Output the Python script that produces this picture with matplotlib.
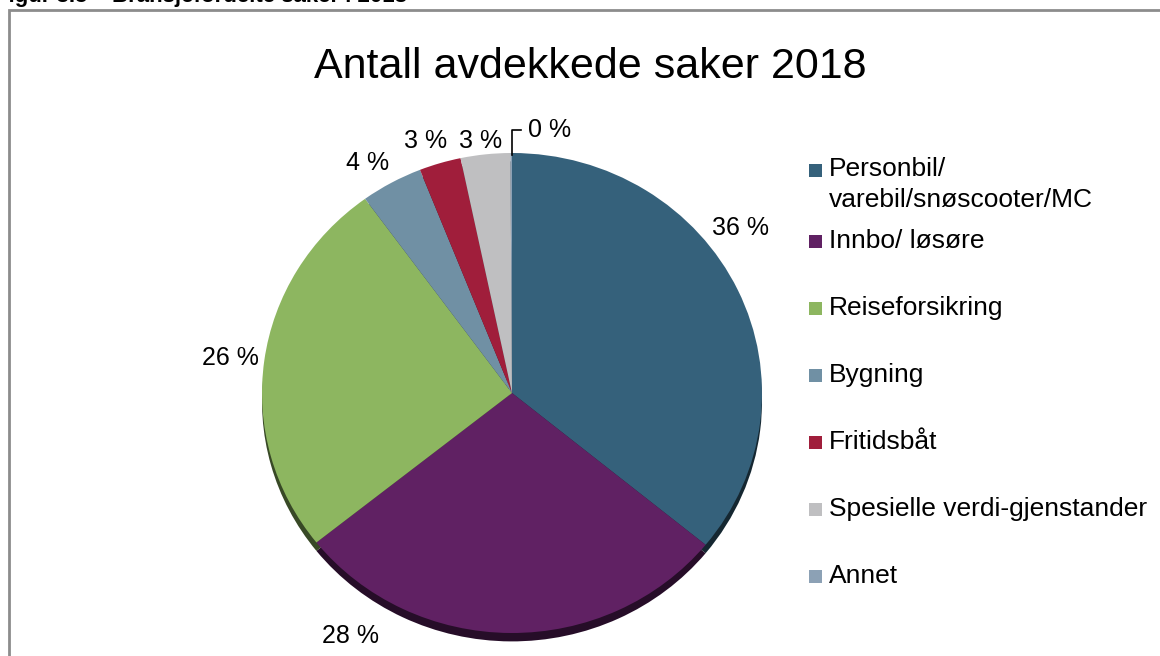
import numpy as np
import matplotlib
matplotlib.use("Agg")
import matplotlib.pyplot as plt
from matplotlib.patches import Rectangle

plt.rcParams['font.family'] = ['Liberation Sans', 'DejaVu Sans']

# Data (andel i %)
kategorier = ["Personbil/\nvarebil/snøscooter/MC", "Innbo/ løsøre", "Reiseforsikring",
              "Bygning", "Fritidsbåt", "Spesielle verdi-gjenstander", "Annet"]
andel = [35.9, 28.4, 25.7, 4.0, 2.7, 3.2, 0.1]
farger = ["#35617b", "#602163", "#8db660", "#7090a4", "#a01e3b", "#bfbfc1", "#8ca1b5"]

# plassering av etikettene (data-koordinater, radius = 1)
etikett_pos = [(0.912, 0.6875), (-0.648, -1.0125), (-1.128, 0.146), (-0.576, 0.958),
               (-0.344, 1.05), (-0.124, 1.05), (0.152, 1.096)]
# y-posisjon (piksler fra toppen) for legenden
legende_y = [170, 241, 308, 375, 442, 509, 576]

W, H = 1160, 656
fig = plt.figure(figsize=(W / 100, H / 100), dpi=100)

# ramme rundt diagrammet
fig.patches.append(Rectangle((9 / W, -0.1), 1.2, 1.1 - 10 / H, transform=fig.transFigure,
                             fill=False, edgecolor="#8c8c8c", linewidth=2))

# figurtekst (delvis kuttet i toppen)
fig.text(-5 / W, 1 - 2 / H, "Figur 3.5 – Bransjefordelte saker i 2018", fontsize=16,
         fontweight="bold", va="baseline", ha="left")

# tittel
fig.text(590 / W, 1 - 78 / H, "Antall avdekkede saker 2018", fontsize=31,
         ha="center", va="baseline")

# akse for kakediagrammet: sentrum (512, 393), radius 250 x 240 px (litt skrå)
cx, cy, rx, ry = 512, 393, 250, 240
ax = fig.add_axes([(cx - 1.2 * rx) / W, (H - cy - 1.2 * ry) / H, 2.4 * rx / W, 2.4 * ry / H])
ax.axis("off")

# skygge
skygge = [tuple(np.array(matplotlib.colors.to_rgb(f)) * 0.4) for f in farger]
ax.pie(andel, colors=skygge, startangle=90, counterclock=False, radius=1.0,
       center=(0, -0.035), wedgeprops=dict(linewidth=0))
wedges, _ = ax.pie(andel, colors=farger, startangle=90, counterclock=False, radius=1.0,
                   wedgeprops=dict(linewidth=0))
ax.set_aspect("auto")
ax.set_xlim(-1.2, 1.2)
ax.set_ylim(-1.2, 1.2)

for v, (x, y) in zip(andel, etikett_pos):
    ax.text(x, y, f"{v:.0f} %", fontsize=18, ha="center", va="center")

# ledelinje for 0 %
ax.plot([0, 0, 0.036], [0.99, 1.096, 1.096], color="black", linewidth=1.2)

# legende
for navn, f, y in zip(kategorier, farger, legende_y):
    fig.patches.append(Rectangle((809 / W, 1 - (y + 7) / H), 13 / W, 13 / H,
                                 transform=fig.transFigure, facecolor=f, edgecolor="none"))
    if "\n" in navn:
        fig.text(829 / W, 1 - (y - 13) / H, navn, fontsize=19, ha="left", va="top",
                 linespacing=1.35)
    else:
        fig.text(829 / W, 1 - y / H, navn, fontsize=19, ha="left", va="center")

fig.savefig("out.png", dpi=100)
